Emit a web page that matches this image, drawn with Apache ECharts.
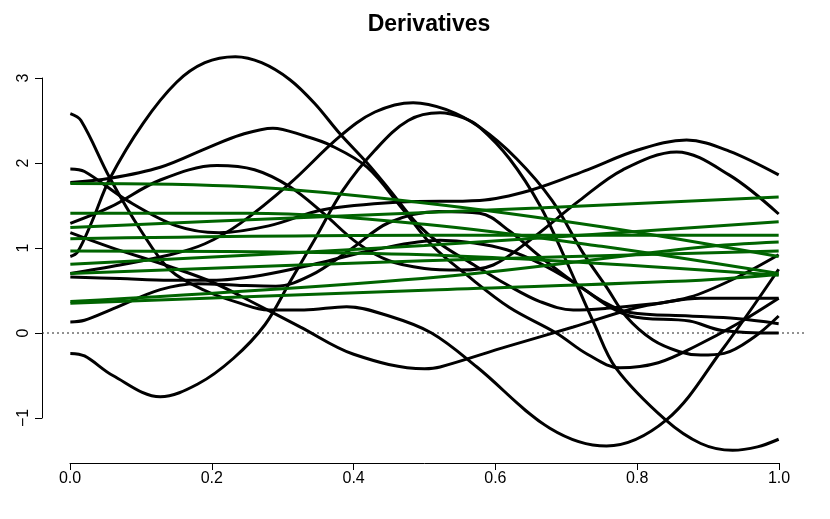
<!DOCTYPE html>
<html><head><meta charset="utf-8">
<script src="https://cdn.jsdelivr.net/npm/echarts@6/dist/echarts.min.js"></script>
<style>html,body{margin:0;padding:0;background:#fff}#c{width:830px;height:519px}</style>
</head><body><div id="c"></div>
<script>
// Tick labels
const xTicks = [0, 0.2, 0.4, 0.6, 0.8, 1.0];
const yTicks = [-1, 0, 1, 2, 3];

// Black derivative curves: [x, value]
const blackA = [[0,2.58],[0.015,2.5],[0.056,1.82],[0.1,1.2],[0.141,0.74],[0.19,0.5],[0.236,0.36],[0.28,0.27],[0.33,0.27],[0.39,0.31],[0.45,0.2],[0.51,0.0],[0.574,-0.4],[0.677,-1.12],[0.757,-1.33],[0.842,-1.02],[0.92,-0.2],[1.0,0.75]];
const blackB = [[0,1.93],[0.02,1.9],[0.08,1.56],[0.15,1.26],[0.21,1.18],[0.28,1.26],[0.357,1.45],[0.465,1.54],[0.578,1.56],[0.65,1.68],[0.73,1.92],[0.8,2.15],[0.87,2.27],[0.93,2.14],[1.0,1.86]];
const blackC = [[0,1.77],[0.056,1.82],[0.127,1.95],[0.197,2.19],[0.24,2.33],[0.286,2.41],[0.33,2.32],[0.367,2.21],[0.419,1.95],[0.47,1.45],[0.512,1.02],[0.56,0.68],[0.62,0.3],[0.686,0.0],[0.73,-0.25],[0.776,-0.41],[0.83,-0.35],[0.884,-0.15],[0.94,0.1],[1.0,0.41]];
const blackD = [[0,0.9],[0.01,0.95],[0.03,1.3],[0.056,1.82],[0.103,2.47],[0.15,2.95],[0.19,3.18],[0.233,3.25],[0.27,3.18],[0.31,2.98],[0.345,2.7],[0.38,2.35],[0.419,2.0],[0.451,1.68],[0.489,1.29],[0.522,1.05],[0.57,0.8],[0.616,0.57],[0.663,0.37],[0.71,0.27],[0.757,0.29],[0.82,0.34],[0.89,0.41],[1.0,0.41]];
const blackE = [[0,1.29],[0.056,1.48],[0.127,1.8],[0.207,1.97],[0.26,1.92],[0.31,1.72],[0.357,1.41],[0.405,1.06],[0.45,0.85],[0.5,0.76],[0.55,0.74],[0.597,0.8],[0.65,1.1],[0.719,1.56],[0.78,1.92],[0.856,2.13],[0.93,1.86],[1.0,1.40]];
const blackF = [[0,1.18],[0.056,1.01],[0.141,0.78],[0.2,0.6],[0.26,0.35],[0.325,0.07],[0.4,-0.25],[0.5,-0.42],[0.522,-0.4],[0.616,-0.16],[0.71,0.07],[0.8,0.3],[0.874,0.42],[0.94,0.65],[1.0,0.92]];
const blackG = [[0,0.7],[0.07,0.8],[0.141,0.92],[0.19,1.05],[0.24,1.29],[0.31,1.76],[0.38,2.31],[0.43,2.6],[0.484,2.71],[0.53,2.63],[0.578,2.42],[0.63,2.05],[0.68,1.56],[0.724,0.94],[0.757,0.54],[0.785,0.19],[0.822,-0.08],[0.86,-0.22],[0.89,-0.26],[0.923,-0.24],[0.965,-0.05],[1.0,0.2]];
const blackH = [[0,0.66],[0.07,0.64],[0.141,0.62],[0.2,0.62],[0.27,0.68],[0.35,0.82],[0.43,0.98],[0.522,1.09],[0.57,1.06],[0.616,0.98],[0.663,0.82],[0.71,0.6],[0.75,0.38],[0.79,0.24],[0.874,0.2],[0.94,0.17],[1.0,0.11]];
const blackI = [[0,0.13],[0.02,0.15],[0.056,0.27],[0.127,0.51],[0.18,0.58],[0.24,0.56],[0.29,0.55],[0.34,0.68],[0.395,0.98],[0.45,1.3],[0.52,1.43],[0.578,1.41],[0.62,1.2],[0.663,0.9],[0.724,0.52],[0.79,0.2],[0.874,0.14],[0.92,0.03],[1.0,0.0]];
const blackJ = [[0,-0.24],[0.02,-0.27],[0.06,-0.5],[0.127,-0.75],[0.18,-0.6],[0.23,-0.3],[0.275,0.1],[0.31,0.6],[0.345,1.1],[0.385,1.68],[0.43,2.15],[0.477,2.5],[0.522,2.59],[0.555,2.53],[0.578,2.42],[0.62,2.05],[0.663,1.5],[0.7,0.85],[0.74,0.1],[0.77,-0.41],[0.84,-1.02],[0.89,-1.3],[0.935,-1.38],[0.97,-1.34],[1.0,-1.25]];

// Green curves
const green1 = [[0,1.76],[0.25,1.72],[0.5,1.53],[0.75,1.25],[1,0.90]];
const green2 = [[0,1.41],[0.25,1.41],[0.5,1.28],[0.75,1.02],[1,0.70]];
const green3 = [[0,1.24],[0.33,1.36],[0.66,1.47],[1,1.60]];
const green4 = [[0,1.11],[0.5,1.15],[1,1.15]];
const green5 = [[0,0.965],[0.5,0.92],[1,0.68]];
const green6 = [[0,0.81],[0.5,1.03],[1,1.31]];
const green7 = [[0,0.70],[0.5,0.85],[1,0.965]];
const green8 = [[0,0.37],[0.52,0.66],[0.89,1.01],[1,1.07]];
const green9 = [[0,0.35],[0.52,0.51],[0.89,0.62],[1,0.69]];

// zero reference line spans the whole plot region
const zeroLine = [[-0.04,0],[1.04,0]];

const blackCurves = [blackA,blackB,blackC,blackD,blackE,blackF,blackG,blackH,blackI,blackJ];
const greenCurves = [green1,green2,green3,green4,green5,green6,green7,green8,green9];

const FONT = 'Liberation Sans, Arial, Helvetica, sans-serif';
const series = [];
// all marks go on grid 1 (full plot region), axes are drawn on grid 0
series.push({type:'line', xAxisIndex:1, yAxisIndex:1, data: zeroLine, showSymbol:false, clip:false, silent:true,
  lineStyle:{color:'#222', width:1, type:[2,3]}});
blackCurves.forEach(d => series.push({type:'line', xAxisIndex:1, yAxisIndex:1, data:d, showSymbol:false, clip:false,
  smooth:0.35, lineStyle:{color:'#000', width:3}}));
greenCurves.forEach(d => series.push({type:'line', xAxisIndex:1, yAxisIndex:1, data:d, showSymbol:false, clip:false,
  smooth:0.35, lineStyle:{color:'#006400', width:3}}));

const chart = echarts.init(document.getElementById('c'), null, {renderer:'canvas'});
chart.setOption({
  animation:false,
  backgroundColor:'#fff',
  title:{text:'Derivatives', left:424, top:8, textAlign:'center',
    textStyle:{fontFamily:FONT, fontWeight:'bold', fontSize:23, color:'#000'}},
  grid:[
    {left:70, right:51, top:78, bottom:101},
    {left:42, right:23, top:78, bottom:101}
  ],
  xAxis:[
    {type:'value', gridIndex:0, min:0, max:1, interval:0.2, offset:45,
      axisLine:{onZero:false, lineStyle:{color:'#000', width:1}},
      axisTick:{length:7, lineStyle:{color:'#000'}},
      axisLabel:{color:'#000', fontFamily:FONT, fontSize:16, margin:8,
        formatter: v => xTicks.some(t => Math.abs(t-v)<1e-9) ? v.toFixed(1) : ''},
      splitLine:{show:false}},
    {type:'value', gridIndex:1, min:-0.04, max:1.04, show:false}
  ],
  yAxis:[
    {type:'value', gridIndex:0, min:-1, max:3, interval:1, offset:28,
      axisLine:{show:true, onZero:false, lineStyle:{color:'#000', width:1}},
      axisTick:{show:true, length:7, lineStyle:{color:'#000'}},
      axisLabel:{color:'#000', fontFamily:FONT, fontSize:16, margin:10, rotate:90,
        formatter: v => yTicks.includes(v) ? String(v).replace('-', '\u2212') : ''},
      splitLine:{show:false}},
    {type:'value', gridIndex:1, min:-1, max:3, show:false}
  ],
  series: series
});
</script></body></html>
